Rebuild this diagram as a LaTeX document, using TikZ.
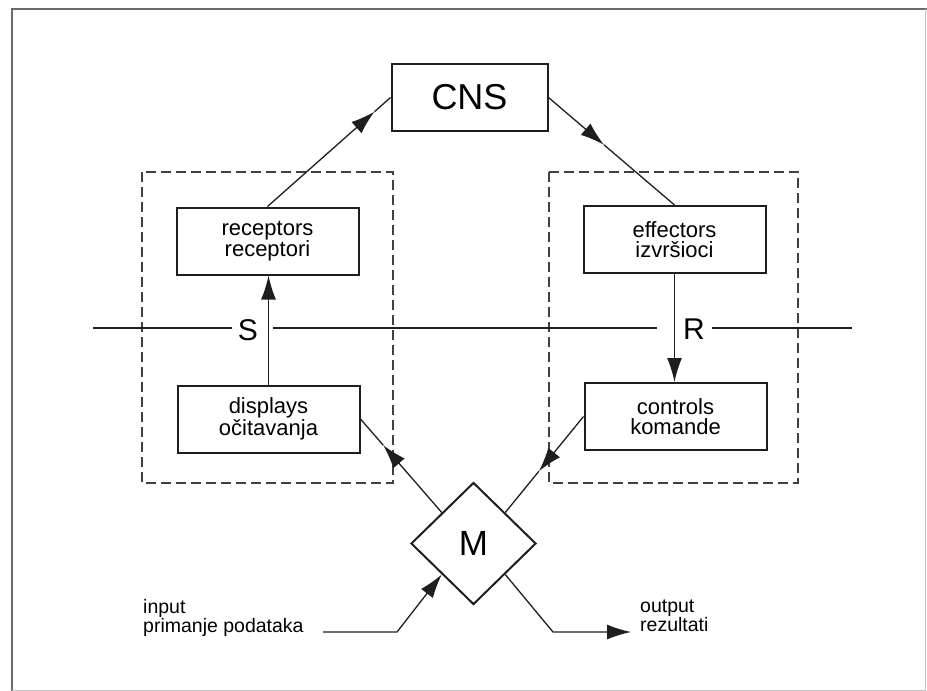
\documentclass[tikz,border=0pt]{standalone}
\usepackage{fontspec}
\setmainfont{Liberation Sans}
\usetikzlibrary{shapes.geometric,arrows.meta,calc}
\definecolor{ink}{HTML}{1E1E1E}
\definecolor{framec}{HTML}{6A6A6A}
\begin{document}
\begin{tikzpicture}[x=1pt,y=-1pt,
  box/.style={draw=ink,line width=2pt,inner sep=0pt,align=center,
              minimum width=182pt,minimum height=67pt,
              font=\fontsize{22}{20.5}\selectfont},
  grp/.style={draw=ink!85,line width=1.4pt,dash pattern=on 10pt off 5pt},
  conn/.style={draw=ink,line width=1.3pt},
  tip/.style={-{Latex[length=24pt,width=15pt]}},
  big/.style={inner sep=0pt,font=\fontsize{30}{30}\selectfont},
  side/.style={inner sep=0pt,align=left,anchor=west,font=\fontsize{19.5}{19}\selectfont},
]
\useasboundingbox (0,0) rectangle (927,691);
% outer frame
\draw[framec,line width=1.6pt] (12,691) -- (12,9) -- (927,9);
\draw[framec!40,line width=1pt] (12,690) -- (925,690) -- (925,9);

% group frames
\draw[grp] (142,172) rectangle (393,483);
\draw[grp] (549,172) rectangle (798,483);

% nodes
\node[draw=ink,line width=2pt,minimum width=156pt,minimum height=67pt,inner sep=0pt,
      font=\fontsize{36}{36}\selectfont] (cns) at (469.5,97.5) {CNS};
\node[box] (rec) at (267.5,241) {receptors\\receptori};
\node[box] (disp) at (268.5,419) {displays\\očitavanja};
\node[box] (eff) at (674.5,239.5) {effectors\\izvršioci};
\node[box] (ctl) at (675.5,416.5) {controls\\komande};
\node[draw=ink,line width=2pt,diamond,minimum width=125pt,minimum height=122pt,
      inner sep=0pt,font=\fontsize{35}{35}\selectfont] (m) at (473.5,543.5) {M};

\node[big] (s) at (248,330) {S};
\node[big] (r) at (694,329) {R};

% horizontal division line
\coordinate (hl0) at (93,328);
\coordinate (hl1) at (232,328);
\coordinate (hl2) at (273,328);
\coordinate (hl3) at (657,328);
\coordinate (hl4) at (712,328);
\coordinate (hl5) at (852,328);
\draw[ink,line width=1.1pt] (hl0) -- (hl1);
\draw[ink,line width=1.1pt] (hl2) -- (hl3);
\draw[ink,line width=1.1pt] (hl4) -- (hl5);

% connectors
\coordinate (a1) at ($(rec.north)!0.87!(cns.west)$);
\draw[conn,tip] (rec.north) -- (a1);
\draw[conn] (a1) -- (cns.west);

\coordinate (a2) at ($(cns.east)!0.44!(eff.north)$);
\draw[conn,tip] (cns.east) -- (a2);
\draw[conn] (a2) -- (eff.north);

\draw[conn,tip] (disp.north) -- (disp.north |- rec.south);
\draw[conn,tip] (eff.south) -- (eff.south |- ctl.north);

\coordinate (a3) at ($(m.north west)!0.72!(disp.east)$);
\draw[conn,tip] (m.north west) -- (a3);
\draw[conn] (a3) -- (disp.east);

\coordinate (a4) at ($(ctl.west)!0.57!(m.north east)$);
\draw[conn,tip] (ctl.west) -- (a4);
\draw[conn] (a4) -- (m.north east);

% input / output
\node[side] (in) at (143,618) {input\\primanje podataka};
\node[side] (out) at (640,616) {output\\rezultati};
\coordinate (inA) at (323,632);
\coordinate (inB) at (397,632);
\draw[conn,tip] (inA) -- (inB) -- (m.south west);
\coordinate (outA) at (553,632);
\coordinate (outB) at (631,632);
\draw[conn,tip] (m.south east) -- (outA) -- (outB);
\end{tikzpicture}
\end{document}
